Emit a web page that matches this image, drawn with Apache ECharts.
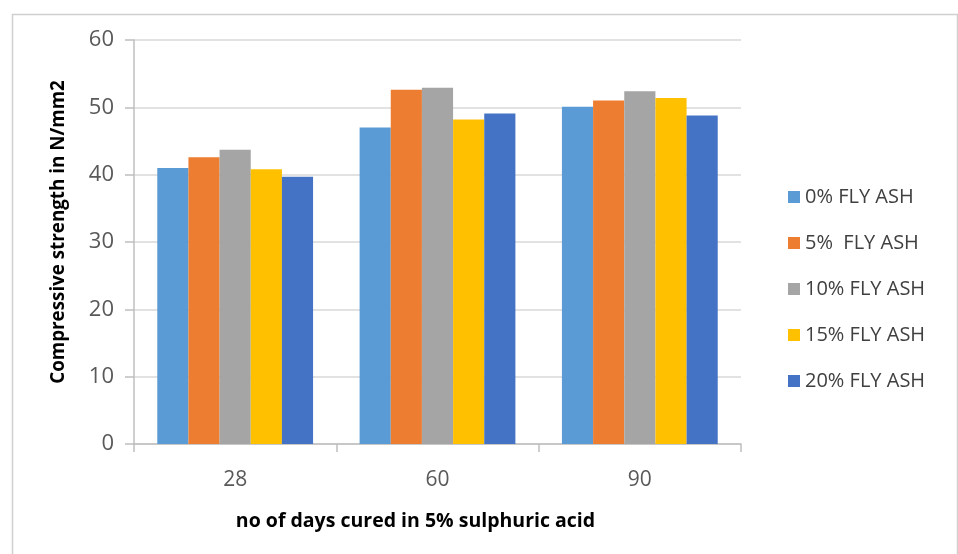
<!DOCTYPE html>
<html>
<head>
<meta charset="utf-8">
<script src="https://cdn.jsdelivr.net/npm/echarts@6/dist/echarts.min.js"></script>
<style>html,body{margin:0;padding:0;background:#fff;}#chart{width:958px;height:554px;}</style>
</head>
<body>
<div id="chart"></div>
<script>
const categories = ['28', '60', '90'];
const seriesNames = ['0% FLY ASH', '5%  FLY ASH', '10% FLY ASH', '15% FLY ASH', '20% FLY ASH'];
const fly0 = [41.0, 47.0, 50.1];
const fly5 = [42.6, 52.6, 51.0];
const fly10 = [43.7, 52.9, 52.4];
const fly15 = [40.8, 48.2, 51.4];
const fly20 = [39.7, 49.1, 48.8];
const yTicks = [0, 10, 20, 30, 40, 50, 60];
const colors = ['#5B9BD5', '#ED7D31', '#A5A5A5', '#FFC000', '#4472C4'];
const allValues = [fly0, fly5, fly10, fly15, fly20];

const chart = echarts.init(document.getElementById('chart'), null, {renderer: 'canvas'});
const font = '"Open Sans", "Noto Sans", sans-serif';
chart.setOption({
  animation: false,
  backgroundColor: '#ffffff',
  color: colors,
  graphic: [{
    type: 'rect', left: 10, top: 12, silent: true,
    shape: {width: 945, height: 600},
    style: {fill: 'none', stroke: '#d0d0d0', lineWidth: 1.5}
  }],
  grid: {left: 134, right: 217, top: 40, bottom: 110, containLabel: false},
  legend: {
    orient: 'vertical', left: 783, top: 182,
    itemWidth: 12, itemHeight: 12, itemGap: 26,
    icon: 'rect',
    textStyle: {fontFamily: font, fontSize: 20, color: '#404040'},
    data: seriesNames
  },
  xAxis: {
    type: 'category', data: categories,
    name: 'no of days cured in 5% sulphuric acid',
    nameLocation: 'middle', nameGap: 67,
    nameTextStyle: {fontFamily: font, fontSize: 19.5, fontWeight: 'bold', color: '#000', padding: [0, 44, 0, 0]},
    axisLine: {lineStyle: {color: '#bfbfbf', width: 1.5}},
    axisTick: {show: true, length: 8, lineStyle: {color: '#bfbfbf', width: 1.5}},
    axisLabel: {fontFamily: font, fontSize: 21, color: '#595959', margin: 26}
  },
  yAxis: {
    type: 'value', min: yTicks[0], max: yTicks[yTicks.length - 1], interval: 10,
    name: 'Compressive strength in N/mm2',
    nameLocation: 'middle', nameGap: 66, nameRotate: 90,
    nameTextStyle: {fontFamily: font, fontSize: 18.8, fontWeight: 'bold', color: '#000', padding: [0, 0, 0, 20]},
    axisLine: {show: true, lineStyle: {color: '#bfbfbf', width: 1.5}},
    axisTick: {show: true, length: 9, lineStyle: {color: '#bfbfbf', width: 1.5}},
    axisLabel: {fontFamily: font, fontSize: 22, color: '#595959', margin: 20},
    splitLine: {lineStyle: {color: '#d9d9d9', width: 1.5}}
  },
  series: seriesNames.map((n, i) => ({
    name: n, type: 'bar', data: allValues[i],
    barGap: '0%', barCategoryGap: '23%',
    itemStyle: {color: colors[i]}
  }))
});
</script>
</body>
</html>
